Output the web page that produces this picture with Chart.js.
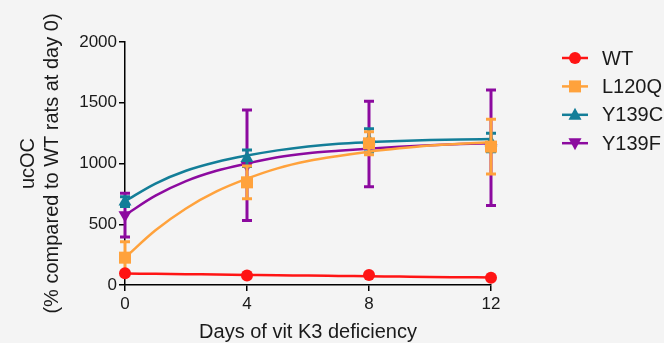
<!DOCTYPE html>
<html>
<head>
<meta charset="utf-8">
<script src="https://cdn.jsdelivr.net/npm/chart.js@4"></script>
<style>
  body { margin: 0; background: #f4f4f4; }
  canvas { display: block; }
</style>
</head>
<body>
<canvas id="chart" width="664" height="343"></canvas>
<script>
// measured days
const days = [0, 4, 8, 12];

// series names + colours
const seriesNames = ['WT', 'L120Q', 'Y139C', 'Y139F'];
const seriesColors = ['#ff1414', '#ffa23c', '#137e98', '#8c0a9f'];

// means and SEM
const wtMean = [96, 78, 82, 60];
const wtErr = [10, 8, 8, 8];
const l120qMean = [225, 845, 1166, 1139];
const l120qErr = [130, 135, 95, 225];
const y139cMean = [686, 1043, 1190, 1173];
const y139cErr = [40, 68, 95, 76];
const y139fMean = [576, 985, 1160, 1130];
const y139fErr = [180, 455, 352, 475];

// fitted curves
const curveDays = [0, 1, 2, 3, 4, 5, 6, 7, 8, 9, 10, 11, 12];
const wtFit = [95, 92, 89, 86, 83, 80, 78, 75, 72, 69, 66, 64, 62];
const l120qFit = [225, 450, 630, 770, 875, 960, 1020, 1062, 1097, 1125, 1148, 1163, 1175];
const y139cFit = [690, 835, 940, 1012, 1065, 1108, 1140, 1163, 1176, 1186, 1193, 1198, 1201];
const y139fFit = [575, 735, 855, 940, 1000, 1052, 1085, 1105, 1122, 1138, 1150, 1160, 1166];

// axis ticks
const yTicks = [0, 500, 1000, 1500, 2000];
const xTicks = [0, 4, 8, 12];

const means = [wtMean, l120qMean, y139cMean, y139fMean];
const errs = [wtErr, l120qErr, y139cErr, y139fErr];
const fits = [wtFit, l120qFit, y139cFit, y139fFit];
const markers = [
  { style: 'circle', radius: 6, rotation: 0 },
  { style: 'rect', radius: 8.5, rotation: 0 },
  { style: 'triangle', radius: 7.5, rotation: 0 },
  { style: 'triangle', radius: 7.5, rotation: 180 }
];

const FONT = "'Liberation Sans', Arial, sans-serif";

const datasets = [];
seriesNames.forEach((name, i) => {
  datasets.push({
    label: name,
    data: days.map((d, j) => ({ x: d, y: means[i][j] })),
    errors: errs[i],
    showLine: false,
    pointStyle: markers[i].style,
    pointRadius: markers[i].radius,
    rotation: markers[i].rotation,
    backgroundColor: seriesColors[i],
    borderColor: seriesColors[i],
    pointBorderWidth: 0,
    order: i * 2,
    clip: false
  });
  datasets.push({
    label: name + ' fit',
    data: curveDays.map((d, j) => ({ x: d, y: fits[i][j] })),
    borderColor: seriesColors[i],
    borderWidth: 2.5,
    pointRadius: 0,
    cubicInterpolationMode: 'monotone',
    fill: false,
    order: i * 2 + 1,
    clip: false
  });
});

const errorBars = {
  id: 'errorBars',
  beforeDatasetDraw(chart, args) {
    const ds = chart.data.datasets[args.index];
    if (!ds.errors) return;
    const ctx = chart.ctx, xs = chart.scales.x, ys = chart.scales.y;
    ctx.save();
    ctx.strokeStyle = ds.borderColor;
    ctx.lineWidth = 3;
    ds.data.forEach((p, i) => {
      const e = ds.errors[i];
      if (!e) return;
      const px = xs.getPixelForValue(p.x);
      const top = ys.getPixelForValue(p.y + e);
      const bot = ys.getPixelForValue(p.y - e);
      ctx.beginPath();
      ctx.moveTo(px, top); ctx.lineTo(px, bot);
      ctx.moveTo(px - 5, top); ctx.lineTo(px + 5, top);
      ctx.moveTo(px - 5, bot); ctx.lineTo(px + 5, bot);
      ctx.stroke();
    });
    ctx.restore();
  }
};

function drawMarker(ctx, m, x, y) {
  ctx.beginPath();
  if (m.style === 'circle') {
    ctx.arc(x, y, 6, 0, Math.PI * 2);
  } else if (m.style === 'rect') {
    ctx.rect(x - 6, y - 6, 12, 12);
  } else {
    const s = m.rotation ? -1 : 1;
    ctx.moveTo(x, y - 7 * s);
    ctx.lineTo(x + 6.5, y + 5 * s);
    ctx.lineTo(x - 6.5, y + 5 * s);
    ctx.closePath();
  }
  ctx.fill();
}

const sideLegend = {
  id: 'sideLegend',
  afterDraw(chart) {
    const ctx = chart.ctx;
    ctx.save();
    seriesNames.forEach((name, i) => {
      const y = 58 + i * 28.4;
      ctx.strokeStyle = seriesColors[i];
      ctx.fillStyle = seriesColors[i];
      ctx.lineWidth = 2.5;
      ctx.beginPath();
      ctx.moveTo(562, y); ctx.lineTo(588, y);
      ctx.stroke();
      drawMarker(ctx, markers[i], 575, y);
      ctx.fillStyle = '#1a1a1a';
      ctx.font = '20px ' + FONT;
      ctx.textBaseline = 'middle';
      ctx.textAlign = 'left';
      ctx.fillText(name, 602, y + 1);
    });
    ctx.restore();
  }
};

new Chart(document.getElementById('chart'), {
  type: 'line',
  data: { datasets },
  options: {
    responsive: false,
    animation: false,
    layout: { padding: { left: 0, right: 173, top: 42, bottom: 0 } },
    plugins: { legend: { display: false }, tooltip: { enabled: false } },
    scales: {
      x: {
        type: 'linear',
        min: 0, max: 12,
        afterBuildTicks: (s) => { s.ticks = xTicks.map(v => ({ value: v })); },
        afterFit: (s) => { s.height = 58; },
        grid: { drawOnChartArea: false, tickLength: 6, color: '#000', lineWidth: 1.5 },
        border: { color: '#000', width: 1.5 },
        ticks: { color: '#1a1a1a', font: { family: FONT, size: 17 }, padding: 3, maxRotation: 0,
                 callback: (v) => String(v) },
        title: {
          display: true, text: 'Days of vit K3 deficiency', color: '#1a1a1a',
          font: { family: FONT, size: 20, lineHeight: 1.2 }, padding: { top: 0, bottom: -1 }
        }
      },
      y: {
        type: 'linear',
        min: 0, max: 2000,
        afterBuildTicks: (s) => { s.ticks = yTicks.map(v => ({ value: v })); },
        afterFit: (s) => { s.width = 125; },
        grid: { drawOnChartArea: false, tickLength: 6, color: '#000', lineWidth: 1.5 },
        border: { color: '#000', width: 1.5 },
        ticks: { color: '#1a1a1a', font: { family: FONT, size: 17 }, padding: 2,
                 callback: (v) => String(v) },
        title: {
          display: true, text: ['ucOC', '(% compared to WT rats at day 0)'], color: '#1a1a1a',
          font: { family: FONT, size: 20, lineHeight: 1.2 }, padding: { top: 16, bottom: 0 }
        }
      }
    }
  },
  plugins: [errorBars, sideLegend]
});
</script>
</body>
</html>
